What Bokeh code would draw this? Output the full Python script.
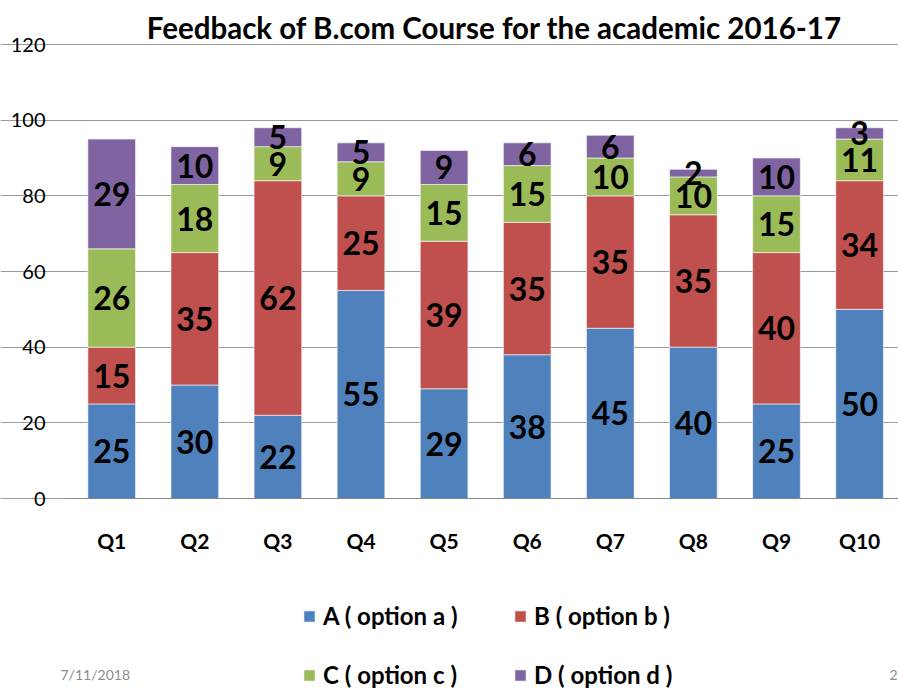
from bokeh.plotting import figure
from bokeh.models import (ColumnDataSource, Range1d, Legend, LegendItem, LabelSet,
                          Label, FixedTicker)
from bokeh.embed import file_html
from bokeh.resources import INLINE
from bokeh.core.properties import value

questions = ["Q1", "Q2", "Q3", "Q4", "Q5", "Q6", "Q7", "Q8", "Q9", "Q10"]
option_a = [25, 30, 22, 55, 29, 38, 45, 40, 25, 50]
option_b = [15, 35, 62, 25, 39, 35, 35, 35, 40, 34]
option_c = [26, 18, 9, 9, 15, 15, 10, 10, 15, 11]
option_d = [29, 10, 5, 5, 9, 6, 6, 2, 10, 3]
series_names = ["A ( option a )", "B ( option b )", "C ( option c )", "D ( option d )"]
colors = ["#4F81BD", "#C0504D", "#9BBB59", "#8064A2"]
y_ticks = [0, 20, 40, 60, 80, 100, 120]
title_text = "Feedback of B.com Course for the academic 2016-17"
footer_date = "7/11/2018"
footer_page = "2"

FONT = "Lato"
W, H = 898, 688

# layout (pixels) -> ranges
PX_X = 83.1            # pixels per category
Q1_PX = 111.2          # pixel center of first category
PLOT_LEFT_PX = 69      # left edge of plotting area
PX_Y = 454 / 120.0     # pixels per value unit
ZERO_PX = 498          # pixel row of value 0 (from top)

x_start = 1 - Q1_PX / PX_X
x_end = x_start + W / PX_X
y_end = ZERO_PX / PX_Y
y_start = -(H - ZERO_PX) / PX_Y
plot_left = x_start + PLOT_LEFT_PX / PX_X

xs = list(range(1, len(questions) + 1))
src = ColumnDataSource(dict(x=xs, a=option_a, b=option_b, c=option_c, d=option_d))

p = figure(width=W, height=H, output_backend="svg", toolbar_location=None,
           x_range=Range1d(x_start, x_end), y_range=Range1d(y_start, y_end),
           min_border_left=0, min_border_right=0, min_border_top=0,
           min_border_bottom=0)

rs = p.vbar_stack(["a", "b", "c", "d"], x="x", width=0.574, source=src,
                  fill_color=colors, line_color="white", line_width=0.6)

# data labels at segment centers
lx, ly, lt = [], [], []
for i, x in enumerate(xs):
    base = 0
    for arr in (option_a, option_b, option_c, option_d):
        v = arr[i]
        lx.append(x)
        ly.append(base + v / 2)
        lt.append(str(v))
        base += v
lsrc = ColumnDataSource(dict(x=lx, y=ly, t=lt))
p.add_layout(LabelSet(x="x", y="y", text="t", source=lsrc, text_align="center",
                      text_baseline="middle", text_font=value(FONT),
                      text_font_style="bold", text_font_size="32px",
                      text_color="black"))

p.outline_line_color = None
p.xgrid.grid_line_color = None
p.ygrid.grid_line_color = "#9a9a9a"
p.ygrid.ticker = FixedTicker(ticks=y_ticks)
p.ygrid.bounds = (plot_left, x_end)

p.yaxis.fixed_location = plot_left
p.yaxis.bounds = (0, 120)
p.yaxis.ticker = FixedTicker(ticks=y_ticks)
p.yaxis.axis_line_color = None
p.yaxis.major_tick_line_color = None
p.yaxis.minor_tick_line_color = None
p.yaxis.major_tick_out = 0
p.yaxis.major_tick_in = 0
p.yaxis.major_label_text_font = FONT
p.yaxis.major_label_text_font_size = "20px"
p.yaxis.major_label_text_color = "black"
p.yaxis.major_label_standoff = 24

p.xaxis.fixed_location = 0
p.xaxis.bounds = (plot_left, x_end)
p.xaxis.ticker = FixedTicker(ticks=xs)
p.xaxis.major_label_overrides = {x: q for x, q in zip(xs, questions)}
p.xaxis.axis_line_color = "#868686"
p.xaxis.major_tick_line_color = None
p.xaxis.minor_tick_line_color = None
p.xaxis.major_tick_out = 0
p.xaxis.major_tick_in = 0
p.xaxis.major_label_text_font = FONT
p.xaxis.major_label_text_font_style = "bold"
p.xaxis.major_label_text_font_size = "21px"
p.xaxis.major_label_text_color = "black"
p.xaxis.major_label_standoff = 29

# title
p.add_layout(Label(x=494, y=H - 27, x_units="screen", y_units="screen", text=title_text,
                   text_align="center", text_baseline="alphabetic", text_font=FONT,
                   text_font_style="bold", text_font_size="29.5px", text_color="black"))

# legends (one per entry, placed in a 2x2 grid)
leg_pos = [(302, H - 620 - 10), (513, H - 620 - 10), (302, H - 679 - 10), (513, H - 679 - 10)]
for r, name, pos in zip(rs, series_names, leg_pos):
    lg = Legend(items=[LegendItem(label=name, renderers=[r])], location=pos,
                padding=0, margin=0, border_line_color=None,
                background_fill_alpha=0, glyph_width=14, glyph_height=14,
                label_height=20, label_standoff=7, label_text_font=FONT,
                label_text_font_style="bold", label_text_font_size="24px",
                label_text_color="black")
    p.add_layout(lg, "center")

# footer
p.add_layout(Label(x=60, y=H - 674, x_units="screen", y_units="screen", text=footer_date,
                   text_align="left", text_baseline="middle", text_font=FONT,
                   text_font_size="14px", text_color="#8b8b8b"))
p.add_layout(Label(x=897, y=H - 674, x_units="screen", y_units="screen", text=footer_page,
                   text_align="right", text_baseline="middle", text_font=FONT,
                   text_font_size="14px", text_color="#8b8b8b"))

open("out.html", "w").write(file_html(p, INLINE))
